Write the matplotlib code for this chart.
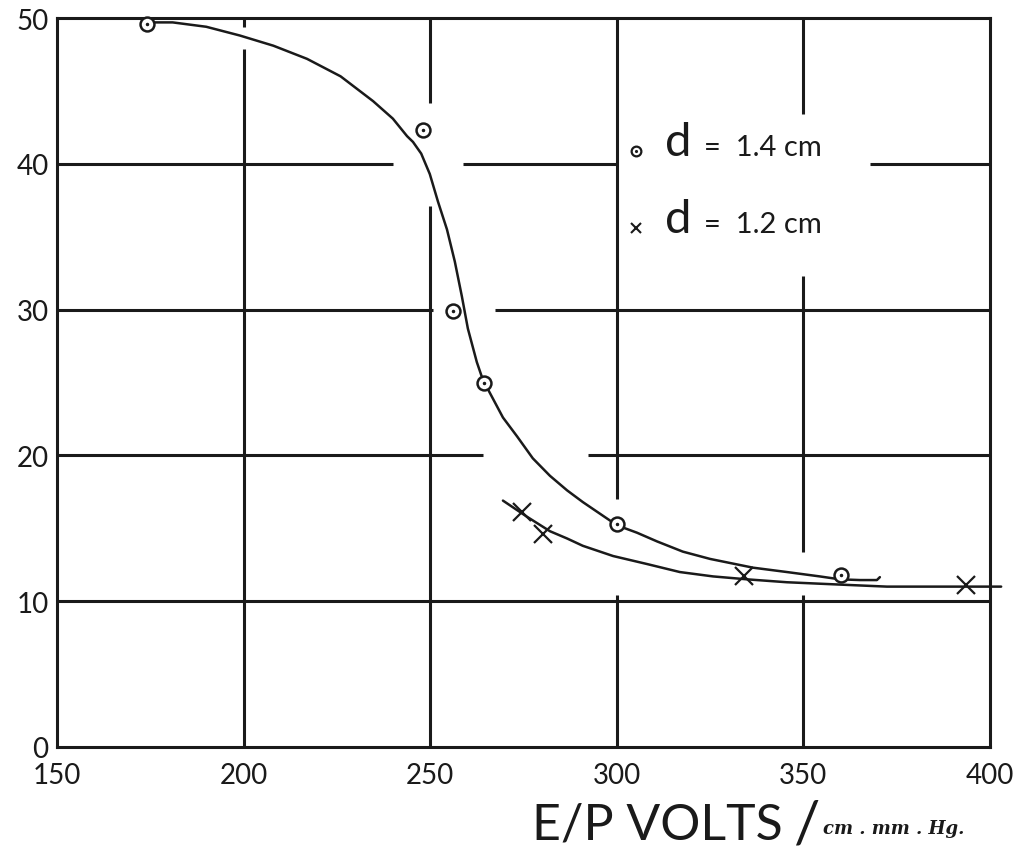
import numpy as np
import matplotlib
matplotlib.use("Agg")
import matplotlib.pyplot as plt

# Données lues sur le graphique original
# d = 1.4 cm : points mesurés
x_14 = [174, 248, 256, 264.5, 300, 360]
y_14 = [49.6, 42.3, 29.9, 25.0, 15.3, 11.8]
# d = 1.4 cm : courbe tracée à la main (relevée point par point)
cx_14 = [174, 181, 190, 199, 208, 217, 226, 234.7, 240, 243.8, 245.4, 247.6, 249.9,
         252.1, 254.5, 256.6, 258.5, 260.1, 262.5, 264.1, 266.8, 269.5, 273.3, 277.5,
         282.1, 286.7, 290.9, 295.5, 300.1, 305.4, 310.8, 317.7, 325, 336.5, 345.6,
         354.4, 359.8, 365.2, 369.7, 370.5]
cy_14 = [49.7, 49.7, 49.4, 48.8, 48.1, 47.2, 46.0, 44.3, 43.1, 41.9, 41.5, 40.7, 39.3,
         37.4, 35.5, 33.3, 30.9, 28.7, 26.4, 25.2, 23.9, 22.6, 21.3, 19.8,
         18.6, 17.6, 16.8, 16.0, 15.2, 14.7, 14.1, 13.4, 12.9, 12.3, 12.0,
         11.7, 11.5, 11.45, 11.45, 11.65]

# d = 1.2 cm : points mesurés
x_12 = [274.7, 280.3, 334.2, 393.7]
y_12 = [16.1, 14.6, 11.7, 11.1]
# d = 1.2 cm : courbe
cx_12 = [269.5, 275.9, 282.1, 286.7, 290.9, 299, 308.1, 316.9, 325.8, 334.9, 345.6,
         354.4, 363.3, 372.4, 390, 403]
cy_12 = [16.9, 15.8, 14.8, 14.3, 13.8, 13.1, 12.55, 12.0, 11.7, 11.5, 11.3,
         11.2, 11.1, 11.0, 11.0, 11.0]

x_ticks = [150, 200, 250, 300, 350, 400]
y_ticks = [0, 10, 20, 30, 40, 50]

# Quadrillage dessiné à la main, avec ses interruptions
h_segments = [(40, 150, 240), (40, 258.8, 300), (40, 367.8, 400),
              (30, 150, 250.7), (30, 267.4, 400),
              (20, 150, 264.1), (20, 292.3, 400),
              (10, 150, 400)]
v_segments = [(200, 0, 47.9), (200, 49.4, 50),
              (250, 0, 37.1), (250, 44.2, 50),
              (300, 0, 10.4), (300, 17.0, 50),
              (350, 0, 10.4), (350, 13.4, 32.3), (350, 43.4, 50)]

encre = '#1a1a1a'
plt.rcParams['font.family'] = ['Lato', 'DejaVu Sans']
plt.rcParams['text.color'] = encre

fig = plt.figure(figsize=(10.21, 8.53), dpi=100)
ax = fig.add_axes([0.0558, 0.1231, 0.9138, 0.8546])

lw_grid = 2.2
for y, x0, x1 in h_segments:
    ax.plot([x0, x1], [y, y], color=encre, lw=lw_grid, solid_capstyle='butt', zorder=1)
for x, y0, y1 in v_segments:
    ax.plot([x, x], [y0, y1], color=encre, lw=lw_grid, solid_capstyle='butt', zorder=1)

# Courbes
ax.plot(cx_14, cy_14, color=encre, lw=1.8, zorder=2, clip_on=False,
        solid_joinstyle='round', solid_capstyle='round')
ax.plot(cx_12, cy_12, color=encre, lw=1.8, zorder=2, clip_on=False,
        solid_joinstyle='round', solid_capstyle='round')

# Points
ax.plot(x_14, y_14, 'o', ms=10, mfc='white', mec=encre, mew=1.8, zorder=3, clip_on=False)
ax.plot(x_14, y_14, '.', ms=3, color=encre, zorder=4, clip_on=False)
ax.plot(x_12, y_12, 'x', ms=13, mec=encre, mew=1.6, zorder=3, clip_on=False)

# Légende écrite à la main
ax.plot([305.1], [40.9], 'o', ms=7, mfc='white', mec=encre, mew=1.6)
ax.plot([305.1], [40.9], '.', ms=2.5, color=encre)
ax.plot([305.1], [35.6], 'x', ms=7, mec=encre, mew=1.5)
for y_leg, valeur in [(40.6, '1.4'), (35.3, '1.2')]:
    ax.text(313.0, y_leg, 'd', fontsize=34, va='baseline', ha='left')
    ax.text(323.5, y_leg, '=  ' + valeur + ' cm', fontsize=21, va='baseline', ha='left')

ax.set_xlim(150, 400)
ax.set_ylim(0, 50)
ax.set_xticks(x_ticks)
ax.set_yticks(y_ticks)
ax.tick_params(length=0, labelsize=20, labelcolor=encre)
ax.tick_params(axis='x', pad=11)
ax.tick_params(axis='y', pad=6)
for s in ax.spines.values():
    s.set_linewidth(2.2)
    s.set_color(encre)

# Titre de l'axe x
fig.text(0.521, 0.016, 'E/P VOLTS', fontsize=36, ha='left', va='baseline')
fig.text(0.777, 0.012, '/', fontsize=42, ha='left', va='baseline')
fig.text(0.806, 0.022, 'cm . mm . Hg.', fontsize=13, fontweight='bold', fontstyle='italic',
         family=['DejaVu Serif'], ha='left', va='baseline')

fig.savefig('out.png', dpi=100)
